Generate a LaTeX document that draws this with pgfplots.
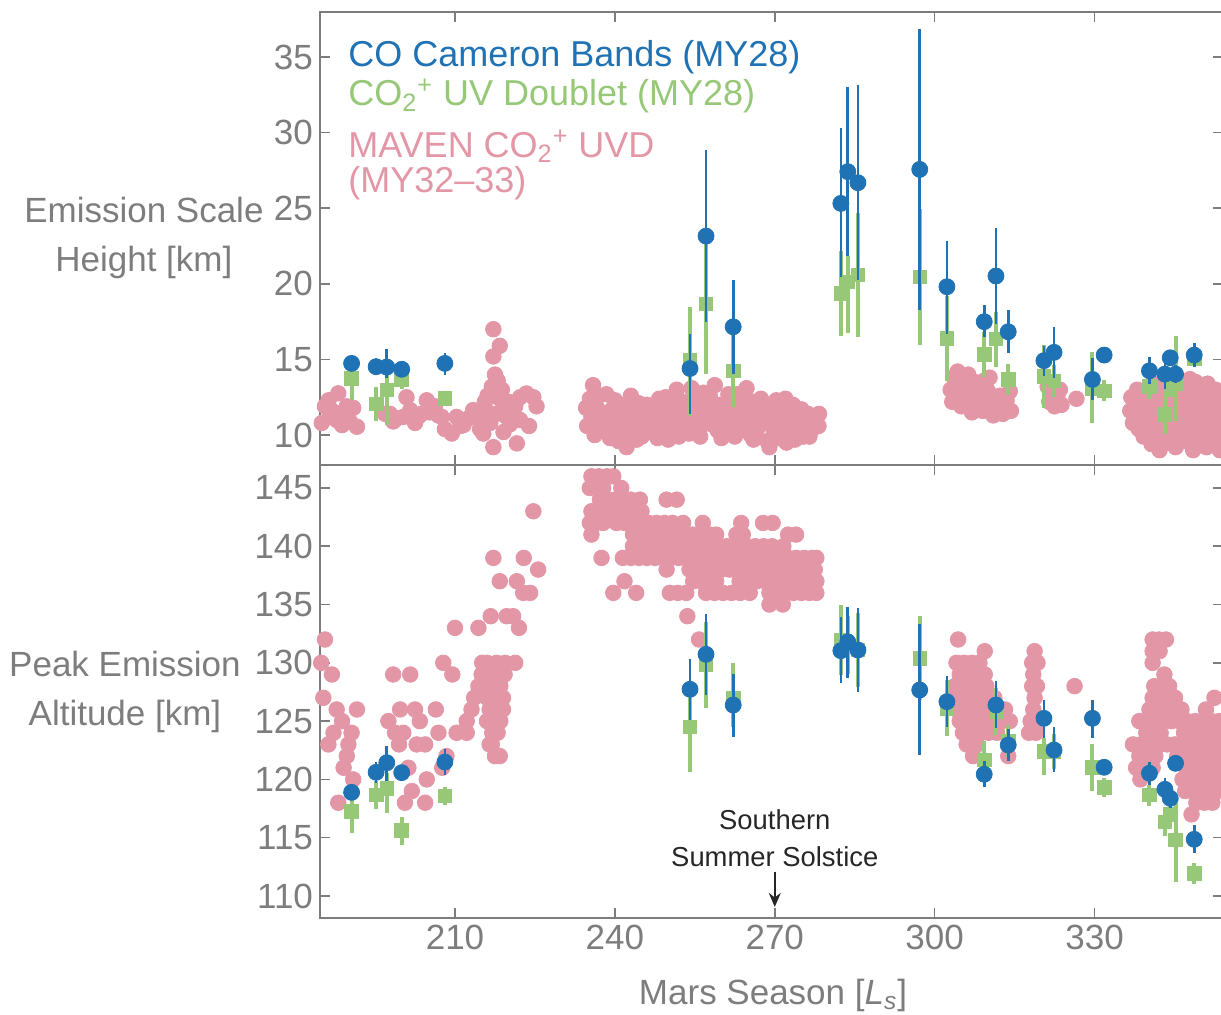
\documentclass[border=0pt]{standalone}
\usepackage{pgfplots}
\pgfplotsset{compat=1.18}
\usepackage{fontspec}
\setmainfont{Liberation Sans}
\usetikzlibrary{arrows.meta}
\definecolor{cblue}{RGB}{31,114,180}
\definecolor{cgreen}{RGB}{150,200,120}
\definecolor{cpink}{RGB}{227,150,166}
\definecolor{cgray}{RGB}{125,125,125}

\pgfplotsset{
  panel/.style={
    width=451.5pt, height=226.5pt, scale only axis,
    xmin=184.67, xmax=354.1,
    axis line style={cgray, line width=0.8pt},
    tick style={cgray, line width=0.8pt},
    major tick length=5pt,
    tick align=inside,
    xtick={210,240,270,300,330},
    ticklabel style={font=\fontsize{17.5}{20}\selectfont, text=cgray},
    /pgf/number format/assume math mode=true,
    clip mode=individual,
    every axis y label/.style={anchor=center, align=center,
      font=\fontsize{17.5}{24.5}\selectfont, text=cgray},
  },
  pinkpts/.style={only marks, mark=*, mark size=3.9pt, color=cpink,
    mark options={draw=none, fill=cpink}},
  greenpts/.style={only marks, mark=square*, mark size=3.4pt, color=cgreen,
    mark options={draw=none, fill=cgreen},
    error bars/.cd, y dir=both, y explicit, error mark=none,
    error bar style={line width=2pt, cgreen}},
  bluepts/.style={only marks, mark=*, mark size=4pt, color=cblue,
    mark options={draw=none, fill=cblue},
    error bars/.cd, y dir=both, y explicit, error mark=none,
    error bar style={line width=1.3pt, cblue}},
}

\begin{document}
\begin{tikzpicture}
% ---------------- bottom panel ----------------
\begin{axis}[panel, at={(0pt,0pt)}, anchor=south west,
  ymin=108.11, ymax=146.97,
  ytick={110,115,120,125,130,135,140,145},
  ylabel={Peak Emission\\Altitude [km]},
  y label style={at={(rel axis cs:-0.216,0.499)}},
  xlabel={Mars Season [\textit{L}\textsubscript{\textit{s}}]},
  x label style={at={(rel axis cs:0.5017,-0.17)}, anchor=center,
    font=\fontsize{17.5}{20}\selectfont, text=cgray},
]
\addplot[pinkpts] coordinates {
(184.9,130) (185.6,132) (185.3,127) (186.9,129) (187.8,126) (191.6,126) (188.8,125)
(187.2,124) (190.6,124) (186.25,123) (190.0,123) (189.7,122) (189.1,121) (190.9,120)
(188.1,118) (198.4,129) (201.6,129) (199.7,126) (202.5,126) (206.4,126) (197.5,125)
(203.4,125) (198.75,124) (200.3,124) (206.9,124) (199.5,123) (202.8,123) (204.4,123)
(201.25,121) (204.7,120) (201.9,119) (200.6,118) (204.4,118) (207.6,121) (208.4,122)
(209.5,129) (207.8,130) (210.3,124) (212.2,124) (212.2,125) (213.1,126) (213.6,127)
(214.4,128) (215.0,129) (215.1,130) (210.0,133) (214.4,133) (216.7,134) (219.7,134)
(220.9,134) (222.0,133) (217.2,139) (222.9,139) (225.6,138) (218.4,137) (221.6,137)
(222.8,136) (224.1,136) (224.7,143) (219.4,130) (221.3,130)
(215.6,129) (216.5,128) (217.5,129) (218.5,128) (216.0,127) (217.0,127) (218.0,126)
(219.0,127) (216.5,126) (217.5,125) (218.5,125) (216.0,125) (217.0,124) (218.0,124)
(216.5,123) (219.0,126) (217.5,122) (218.4,122) (216.9,123) (219.3,129) (216.0,130)
(217.8,130) (218.8,129)
(235.6,146) (237.0,146) (238.5,146) (239.7,146)
(235.3,145) (237.8,145) (241.2,145)
(237.2,144) (238.5,144) (240.0,144) (241.5,144) (243.0,144) (244.7,144) (249.7,144) (251.6,144)
(235.6,143) (237.0,143) (238.5,143) (240.0,143) (241.5,143) (243.0,143) (245.0,143)
(235.3,142) (236.5,142) (237.8,142) (240.3,142) (241.8,142) (243.3,142) (244.8,142) (246.3,142)
(247.8,142) (249.3,142) (250.8,142) (252.8,142) (256.5,142) (263.7,142) (267.8,142) (269.6,142)
(235.6,141) (243.4,141) (245.0,141) (246.6,141) (248.2,141) (249.8,141) (251.4,141) (253.0,141)
(254.6,141) (256.2,141) (257.8,141) (259.0,141) (262.8,141) (264.0,141) (272.5,141) (274.0,141)
(243.4,140) (245.0,140) (246.6,140) (248.2,140) (249.8,140) (251.4,140) (253.0,140) (254.6,140)
(256.2,140) (257.8,140) (259.4,140) (261.0,140) (262.2,140) (264.7,140) (266.3,140) (267.9,140)
(269.5,140) (271.6,140)
(237.5,139) (241.5,139) (243.0,139) (244.5,139) (246.0,139) (247.5,139) (249.0,139) (250.5,139)
(252.0,139) (253.5,139) (255.0,139) (256.5,139) (259.0,139) (260.5,139) (262.0,139) (263.5,139)
(265.0,139) (266.5,139) (268.0,139) (269.5,139) (271.0,139) (272.5,139) (274.0,139) (275.5,139)
(277.0,139) (277.8,139)
(249.7,138) (254.0,138) (255.5,138) (257.0,138) (258.5,138) (260.0,138) (261.5,138) (262.8,138)
(264.0,138) (265.5,138) (267.0,138) (268.5,138) (270.0,138) (271.5,138) (273.0,138) (274.5,138)
(276.0,138) (277.5,138)
(241.8,137) (254.7,137) (256.2,137) (257.7,137) (259.0,137) (263.4,137) (265.0,137) (266.6,137)
(268.2,137) (269.8,137) (271.4,137) (273.0,137) (274.6,137) (276.2,137) (277.8,137)
(239.7,136) (244.0,136) (250.3,136) (251.8,136) (253.4,136) (257.1,136) (258.7,136) (260.3,136)
(261.9,136) (263.5,136) (265.3,136) (269.0,136) (270.5,136) (272.0,136) (273.5,136) (275.0,136)
(276.5,136) (277.8,136)
(269.0,135) (271.5,135) (253.6,134) (255.8,132)
(304.4,132) (309.4,131)
(304.1,130) (305.5,130) (307.0,130) (308.4,130)
(304.7,129) (306.2,129) (307.8,129) (309.4,129)
(303.8,128) (305.3,128) (306.8,128) (308.3,128) (309.7,128)
(303.4,127) (305.0,127) (306.6,127) (308.2,127) (309.8,127) (311.2,127)
(304.1,126) (305.7,126) (307.3,126) (308.9,126) (310.5,126) (312.0,126) (313.2,126)
(304.7,125) (306.3,125) (307.9,125) (309.5,125) (311.1,125) (312.6,125) (314.1,125)
(305.3,124) (306.9,124) (308.5,124) (310.1,124) (311.7,124)
(306.0,123) (308.0,123) (307.2,122) (313.8,122)
(318.75,131) (318.3,130) (319.3,130) (318.5,129) (318.3,128) (319.2,128) (318.75,127)
(318.5,126) (318.0,125) (319.5,125) (317.7,124) (319.0,124) (326.25,128)
(340.9,132) (342.1,132) (343.4,132) (340.9,131) (342.2,131) (340.9,130) (343.1,129)
(341.2,128) (342.6,128) (344.0,128)
(340.9,127) (342.3,127) (343.7,127) (345.1,127) (352.5,127)
(340.3,126) (341.8,126) (343.3,126) (344.8,126) (346.3,126) (350.9,126)
(338.4,125) (339.9,125) (341.4,125) (342.9,125) (344.4,125) (345.9,125) (347.4,125) (348.9,125)
(350.4,125) (351.9,125) (353.4,125)
(339.7,124) (341.2,124) (342.4,124) (346.8,124) (348.3,124) (349.8,124) (351.3,124) (352.8,124)
(337.2,123) (338.7,123) (340.2,123) (342.1,123) (343.6,123) (345.1,123) (346.6,123) (348.1,123)
(349.6,123) (351.1,123) (352.6,123) (354.0,123)
(338.4,122) (339.9,122) (341.4,122) (345.5,122) (347.0,122) (348.5,122) (350.0,122) (351.5,122) (353.0,122)
(337.8,121) (339.3,121) (340.9,121) (347.2,121) (348.7,121) (350.2,121) (351.7,121) (353.2,121)
(338.6,120) (346.5,120) (348.0,120) (349.5,120) (351.0,120) (352.5,120) (354.0,120)
(347.0,119) (348.5,119) (350.0,119) (351.5,119) (353.0,119)
(349.1,118) (350.6,118) (352.1,118) (348.2,117)
};
\addplot[greenpts] table[x=x, y=y, y error plus=ep, y error minus=em] {
x y ep em
190.6 117.23 1.4 1.8
195.2 118.66 1.2 1.2
197.2 119.24 1.3 2.1
200.0 115.60 1.2 1.2
208.1 118.58 0.8 0.8
254.1 124.52 3.9 3.9
257.1 129.82 3.7 3.7
262.2 126.96 3.0 2.5
282.4 131.96 3.0 3.0
283.7 131.53 2.5 2.5
285.6 131.10 3.2 3.2
297.2 130.39 3.6 3.6
302.3 126.10 2.4 2.4
309.3 121.67 1.6 1.6
311.5 125.80 2.0 2.0
313.8 123.30 1.4 1.4
320.5 122.38 1.2 2.0
322.4 122.40 1.5 1.5
329.6 121.04 2.0 2.0
331.8 119.33 0.8 0.8
340.3 118.66 0.9 0.9
343.2 116.37 1.2 1.2
344.2 117.00 0.8 0.8
345.2 114.80 3.2 3.6
348.7 111.95 0.9 0.9
};
\addplot[bluepts] table[x=x, y=y, y error plus=ep, y error minus=em] {
x y ep em
190.6 118.89 0.5 0.5
195.2 120.61 0.9 0.9
197.2 121.43 1.4 1.6
200.0 120.58 0.2 0.2
208.1 121.49 1.1 1.1
254.1 127.73 2.6 2.6
257.1 130.73 3.5 3.5
262.2 126.38 2.7 2.7
282.4 131.04 2.9 2.8
283.7 131.80 3.0 3.1
285.6 131.10 3.6 3.6
297.2 127.67 5.7 5.6
302.3 126.67 2.2 2.2
309.3 120.44 1.1 1.1
311.5 126.38 2.1 2.0
313.8 122.95 1.4 1.4
320.5 125.24 1.6 1.7
322.4 122.52 2.0 1.9
329.6 125.24 1.6 1.7
331.8 121.04 0.2 0.2
340.3 120.53 1.0 1.0
343.2 119.15 1.0 1.0
344.2 118.38 0.8 0.8
345.2 121.38 0.6 0.6
348.7 114.86 1.2 1.2
};
\node[align=center, text=black!85, font=\fontsize{13.7}{18.5}\selectfont]
  at (axis cs:270,114.93) {Southern\\Summer Solstice};
\draw[-{Stealth[length=7pt,width=6pt]}, black!85, line width=0.8pt]
  (axis cs:270,112.06) -- (axis cs:270,109.06);
\end{axis}

% ---------------- top panel ----------------
\begin{axis}[panel, at={(0pt,226.5pt)}, anchor=south west,
  ymin=8.02, ymax=37.98,
  ytick={10,15,20,25,30,35},
  xticklabels={},
  ylabel={Emission Scale\\Height [km]},
  y label style={at={(rel axis cs:-0.195,0.502)}},
]
\addplot[pinkpts] coordinates {
(185.0,10.8) (185.6,11.9) (186.3,12.3) (187.2,11.55) (188.1,12.76) (188.8,10.66) (189.4,11.3)
(189.7,11.9) (190.9,11.8) (191.6,10.55) (190.3,10.9) (187.8,11.0) (186.5,11.2)
(196.9,11.4) (197.8,11.4) (198.4,10.9) (199.1,11.1) (200.3,11.2) (200.9,12.5) (201.6,11.65)
(202.5,10.8) (203.1,11.2) (203.75,11.4) (204.7,12.3) (205.3,11.5) (206.25,11.9) (206.9,11.3)
(207.5,11.2) (208.1,10.4) (209.4,10.1) (210.3,11.2) (211.0,10.6) (211.6,10.66) (212.5,11.1)
(213.4,11.65) (214.0,11.3) (214.7,10.4) (215.3,10.1) (215.6,12.2) (216.1,12.6) (216.6,10.8)
(216.9,13.2) (217.2,17.0) (217.2,15.2) (217.5,14.0) (218.0,13.6) (218.4,15.9) (218.4,12.4)
(218.8,13.0) (219.0,11.5) (219.4,12.0) (219.7,11.2) (217.2,9.2) (219.1,10.2) (220.3,10.7)
(220.9,11.5) (221.3,11.9) (221.6,9.45) (222.2,12.5) (222.2,11.0) (223.4,12.75) (223.9,10.6)
(224.7,12.5) (225.3,11.9) (215.9,11.6) (217.8,11.4) (220.0,12.2)
(234.6,11.8) (234.8,10.6) (235.3,12.4) (235.6,11.2) (235.9,13.3) (236.2,10.0) (236.5,11.9)
(236.9,12.6) (237.2,10.9) (237.6,11.5) (238.0,10.3) (238.4,12.7) (238.7,11.2) (239.1,9.8)
(239.5,11.7) (239.9,10.5) (240.3,11.1) (240.7,9.6) (241.0,12.0) (241.4,10.2) (241.8,11.4)
(242.2,9.2) (242.5,10.8) (242.9,11.9) (243.3,10.0) (243.7,11.3) (244.1,9.7) (244.5,12.1)
(244.8,10.6) (245.2,11.5) (245.6,10.1) (246.0,12.0) (246.4,10.9) (246.8,11.6) (247.1,10.3)
(247.5,11.9) (247.9,11.0) (248.3,12.4) (248.7,10.5) (249.1,11.7) (249.5,12.5) (249.9,10.2)
(250.2,11.3) (250.6,12.0) (251.0,10.7) (251.4,11.6) (251.6,13.0) (251.9,10.0) (252.3,11.2)
(252.7,12.2) (253.1,10.6) (253.5,11.5) (253.9,10.1) (254.4,13.1) (254.6,12.3) (255.0,11.0)
(255.4,12.4) (255.8,10.4) (256.2,11.5) (256.6,12.8) (257.0,10.9) (257.4,11.8) (257.8,12.6)
(258.2,10.7) (258.75,13.3) (258.9,11.4) (259.3,10.3) (259.7,12.0) (260.1,11.1) (260.5,10.0)
(260.9,11.8) (261.3,12.7) (261.6,10.5) (262.0,11.3) (262.4,12.1) (262.8,10.2) (263.2,11.0)
(263.6,11.9) (264.0,10.6) (264.4,12.5) (264.7,13.1) (265.1,11.2) (265.5,10.0) (265.9,12.2)
(266.3,11.0) (266.7,10.4) (267.0,11.7) (267.4,12.4) (267.8,10.8) (268.2,11.5) (268.6,9.6)
(269.0,9.2) (269.0,10.9) (269.4,11.9) (269.8,10.3) (270.3,12.3) (270.6,11.1) (271.0,9.8)
(271.4,10.7) (271.8,11.8) (272.2,9.5) (272.6,11.0) (273.0,10.3) (273.4,12.0) (273.8,9.7)
(274.2,11.3) (274.6,10.5) (275.0,11.7) (275.4,9.9) (275.8,10.8) (276.2,11.4) (276.6,10.2)
(277.0,11.0) (277.4,10.5) (277.8,11.2) (278.2,10.6) (278.3,11.4) (236.0,11.6) (237.0,11.0)
(240.0,12.3) (243.0,12.6) (245.0,9.9) (248.0,9.8) (250.0,9.7) (252.0,9.9) (256.0,9.9)
(260.0,9.8) (262.5,9.9) (266.0,9.7) (270.0,10.0) (274.0,10.1) (276.5,9.9) (272.0,12.4) (263.0,12.7)
(303.0,13.0) (303.3,12.2) (303.6,13.8) (304.0,12.6) (304.3,14.2) (304.6,13.3) (305.0,11.9)
(305.3,12.8) (305.6,13.6) (306.0,12.3) (306.3,14.0) (306.6,13.0) (307.0,11.5) (307.3,12.5)
(307.6,13.5) (308.0,12.0) (308.3,13.2) (308.6,12.7) (309.0,11.6) (309.3,13.6) (309.6,12.3)
(310.0,12.9) (310.3,13.8) (310.6,12.1) (311.0,11.3) (311.6,12.3) (312.3,12.6) (312.8,11.4)
(313.5,12.3) (314.1,12.9) (314.3,11.6) (304.8,12.9) (307.8,12.9) (305.9,13.3)
(321.2,13.2) (321.5,12.2) (321.8,12.7) (322.2,13.5) (322.5,11.9) (323.0,12.5) (323.5,13.0)
(323.8,12.0) (326.6,12.4)
(336.7,11.6) (336.9,12.5) (337.2,10.8) (337.5,12.0) (337.8,11.2) (338.0,13.0) (338.3,10.4)
(338.6,12.4) (338.9,11.6) (339.2,9.9) (339.5,12.9) (339.8,11.0) (340.1,10.2) (340.4,12.2)
(340.7,9.4) (341.0,11.5) (341.3,13.4) (341.6,10.6) (341.9,12.6) (342.2,9.0) (342.5,11.9)
(342.8,10.0) (343.1,13.0) (343.4,11.2) (343.7,9.5) (344.0,12.2) (344.3,10.7) (344.6,13.6)
(344.9,11.5) (345.2,9.2) (345.5,12.7) (345.8,10.4) (346.1,11.8) (346.4,13.3) (346.7,9.6)
(347.0,11.0) (347.3,12.4) (347.6,10.1) (347.9,13.7) (348.2,11.6) (348.5,9.0) (348.8,12.8)
(349.1,10.7) (349.4,11.9) (349.7,13.1) (350.0,9.8) (350.3,11.3) (350.6,12.5) (350.9,10.3)
(351.2,13.4) (351.5,11.0) (351.8,9.4) (352.1,12.1) (352.4,10.6) (352.7,13.0) (353.0,11.7)
(353.3,9.9) (353.6,12.4) (353.9,10.9) (342.0,12.8) (346.0,12.9) (349.0,13.5) (344.0,9.9)
(348.0,10.0) (351.0,9.2) (353.5,9.0) (339.0,10.9) (345.0,10.2) (350.5,10.8) (352.8,11.9)
};
\addplot[greenpts] table[x=x, y=y, y error plus=ep, y error minus=em] {
x y ep em
190.6 13.75 1.5 1.4
195.2 12.05 1.1 1.1
197.2 12.98 1.1 2.3
200.0 13.64 0.4 0.6
208.1 12.43 0.5 0.5
254.1 14.96 3.5 3.7
257.1 18.67 4.6 4.6
262.2 14.25 2.4 2.4
282.4 19.37 2.8 2.8
283.7 20.14 1.7 3.4
285.6 20.58 4.1 4.1
297.2 20.47 4.5 4.5
302.3 16.40 2.8 2.8
309.3 15.34 1.5 1.5
311.5 16.35 1.8 1.85
313.8 13.68 1.05 1.05
320.5 13.86 2.1 2.1
322.4 13.57 1.05 1.05
329.6 13.09 2.4 2.3
331.8 12.93 0.7 0.7
340.3 13.20 0.8 0.8
343.2 11.37 2.3 1.3
344.2 13.00 0.5 0.5
345.2 13.42 3.1 2.5
348.7 15.07 0.3 0.3
};
\addplot[bluepts] table[x=x, y=y, y error plus=ep, y error minus=em] {
x y ep em
190.6 14.74 0.5 0.5
195.2 14.52 0.6 0.5
197.2 14.50 1.2 0.7
200.0 14.35 0.3 0.3
208.1 14.74 0.7 0.75
254.1 14.40 2.3 3.0
257.1 23.16 5.7 5.7
262.2 17.16 3.1 3.1
282.4 25.32 5.0 4.85
283.7 27.42 5.6 5.6
285.6 26.69 6.45 6.45
297.2 27.57 9.3 9.3
302.3 19.81 3.0 3.1
309.3 17.50 1.1 1.0
311.5 20.52 3.2 3.2
313.8 16.83 1.45 1.43
320.5 14.92 1.0 1.0
322.4 15.47 1.7 1.7
329.6 13.68 1.4 1.36
331.8 15.29 0.2 0.2
340.3 14.25 0.9 0.85
343.2 14.03 1.0 1.0
344.2 15.11 0.5 0.5
345.2 14.03 0.6 0.6
348.7 15.29 0.8 0.8
};
\node[anchor=west, text=cblue, font=\fontsize{18}{20}\selectfont, inner sep=0pt]
  at (rel axis cs:0.031,0.9007) {CO Cameron Bands (MY28)};
\node[anchor=west, text=cgreen, font=\fontsize{18}{20}\selectfont, inner sep=0pt]
  at (rel axis cs:0.031,0.8150) {CO\textsubscript{2}\textsuperscript{+} UV Doublet (MY28)};
\node[anchor=west, text=cpink, font=\fontsize{18}{20}\selectfont, inner sep=0pt]
  at (rel axis cs:0.031,0.7030) {MAVEN CO\textsubscript{2}\textsuperscript{+} UVD};
\node[anchor=west, text=cpink, font=\fontsize{18}{20}\selectfont, inner sep=0pt]
  at (rel axis cs:0.031,0.6225) {(MY32–33)};
\end{axis}
\pgfresetboundingbox
\path[use as bounding box] (-160pt,-48pt) rectangle (450.5pt,459pt);
\end{tikzpicture}
\end{document}
